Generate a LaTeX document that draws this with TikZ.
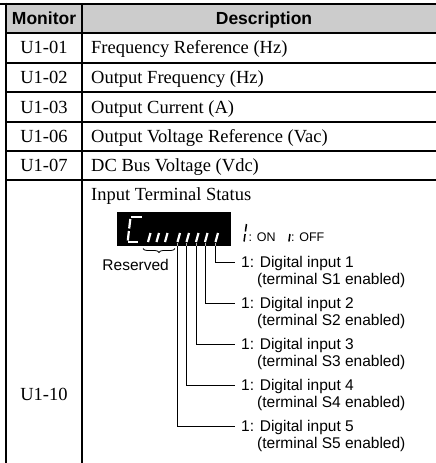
\documentclass[tikz,border=0pt]{standalone}
\usepackage{fontspec}
\setmainfont{Liberation Serif}
\setsansfont{Liberation Sans}
\usetikzlibrary{positioning, decorations.pathreplacing}
\tikzset{hdr/.style={font=\sffamily\bfseries\fontsize{17.5}{20}\selectfont, inner sep=0pt, anchor=base},
         cell/.style={font=\fontsize{18.5}{21}\selectfont, inner sep=0pt, anchor=base},
         desc/.style={cell, anchor=base west},
         rule/.style={line width=2pt},
         frame/.style={line width=2.6pt},
         seg/.style={white, line width=2.2pt},
         keyseg/.style={black, line width=1.5pt},
         lbl/.style={font=\sffamily\fontsize{15.5}{17}\selectfont, inner sep=0pt, text height=11pt, text depth=0pt, anchor=base west},
         din/.style={lbl, inner xsep=6pt},
         key/.style={font=\sffamily\fontsize{12.5}{14}\selectfont, inner sep=0pt, anchor=base west},
         wire/.style={line width=0.9pt},
         stub/.style={gray!60, line width=0.9pt},
        }

\begin{document}
\begin{tikzpicture}[x=1pt,y=-1pt]
        \useasboundingbox (0,0) rectangle (436,463);
        % table
        \fill[gray!40] (6,4) rectangle (436,32.5);
        \draw[frame] (0,4) -- (436,4);
        \draw[frame] (6,2.7) -- (6,463);
        \draw[rule] (82,4) -- (82,463);
        \draw[rule] (6,32.5) -- (436,32.5);
        \draw[rule] (6,62.5) -- (436,62.5);
        \draw[rule] (6,92) -- (436,92);
        \draw[rule] (6,122) -- (436,122);
        \draw[rule] (6,151) -- (436,151);
        \draw[rule] (6,180) -- (436,180);

        \node[hdr](hmon)at(44,24){Monitor};
        \node[hdr](hdesc)at(264,24){Description};
        \node[cell](m01)at(44,53.5){U1-01};
        \node[cell](m02)at(44,83.3){U1-02};
        \node[cell](m03)at(44,113){U1-03};
        \node[cell](m06)at(44,142.5){U1-06};
        \node[cell](m07)at(44,171.5){U1-07};
        \node[cell](m10)at(44,400){U1-10};
        \node[desc](d01)at(91,53.5){Frequency Reference (Hz)};
        \node[desc](d02)at(91,83.3){Output Frequency (Hz)};
        \node[desc](d03)at(91,113){Output Current (A)};
        \node[desc](d06)at(91,142.5){Output Voltage Reference (Vac)};
        \node[desc](d07)at(91,171.5){DC Bus Voltage (Vdc)};
        \node[desc](d10)at(91,200){Input Terminal Status};

        % display
        \node[fill=black, minimum width=114pt, minimum height=34pt, inner sep=0pt](lcd)at(174,229){};
        \draw[seg](131,217)--(141.5,217);
        \draw[seg](130.3,219)--(129.2,228.5);
        \draw[seg](128.9,231)--(127.8,240.5);
        \draw[seg](128,242.3)--(138,242.3);
        \draw[seg](150.5,233)--(148,242);
        \draw[seg](159,233)--(156.5,242);
        \draw[seg](167.5,233)--(165,242);
        \draw[seg](180,233)--(177.5,242);
        \draw[seg](189,233)--(186.5,242);
        \draw[seg](198.5,233)--(196,242);
        \draw[seg](207.5,233)--(205,242);
        \draw[seg](218,233)--(215.5,242);

        \draw[keyseg](246.5,224)--(245.4,231.5);
        \draw[keyseg](245.1,234)--(244,241.5);
        \node[key](on)at(248.5,241.5){: ON};
        \draw[keyseg](290,234)--(288.9,241.5);
        \node[key](off)at(291,241.5){: OFF};

        \draw[decorate, decoration={brace, mirror, amplitude=4pt}, line width=0.8pt](143,248.5)--(175,248.5);
        \node[lbl, anchor=base east](res)at(169,270){Reserved};

        \coordinate(s1)at(215.5,243); \coordinate(b1)at(215.5,246);
        \coordinate(s2)at(205,243); \coordinate(b2)at(205,246);
        \coordinate(s3)at(196,243); \coordinate(b3)at(196,246);
        \coordinate(s4)at(186.5,243); \coordinate(b4)at(186.5,246);
        \coordinate(s5)at(177.5,243); \coordinate(b5)at(177.5,246);

        \node[din](i1)at(235,267.5){1: Digital input 1};
        \node[din](i2)at(235,308.5){1: Digital input 2};
        \node[din](i3)at(235,349.5){1: Digital input 3};
        \node[din](i4)at(235,390.5){1: Digital input 4};
        \node[din](i5)at(235,431.5){1: Digital input 5};
        \node[lbl](t1)at(257,284.5){(terminal S1 enabled)};
        \node[lbl](t2)at(257,325.5){(terminal S2 enabled)};
        \node[lbl](t3)at(257,366.5){(terminal S3 enabled)};
        \node[lbl](t4)at(257,407.5){(terminal S4 enabled)};
        \node[lbl](t5)at(257,448.5){(terminal S5 enabled)};

        \draw[stub](s1)--(b1);
        \draw[stub](s2)--(b2);
        \draw[stub](s3)--(b3);
        \draw[stub](s4)--(b4);
        \draw[stub](s5)--(b5);
        \draw[wire](b1)|-(i1.west);
        \draw[wire](b2)|-(i2.west);
        \draw[wire](b3)|-(i3.west);
        \draw[wire](b4)|-(i4.west);
        \draw[wire](b5)|-(i5.west);
    \end{tikzpicture}
\end{document}
